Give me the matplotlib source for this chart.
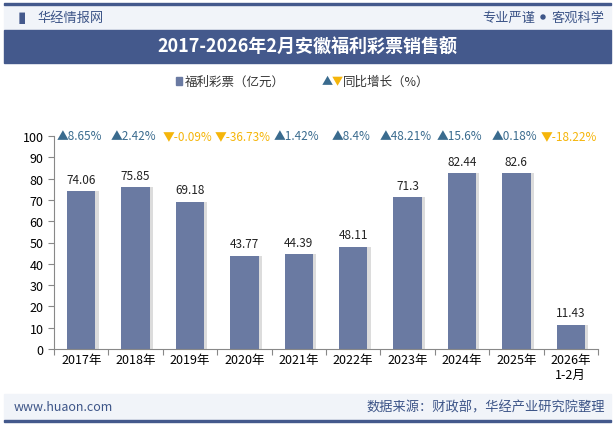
import matplotlib.pyplot as plt
from matplotlib.patches import Rectangle, Ellipse

plt.rcParams['font.family'] = ['Noto Sans CJK SC', 'DejaVu Sans']

years = ['2017年', '2018年', '2019年', '2020年', '2021年', '2022年',
         '2023年', '2024年', '2025年', '2026年\n1-2月']
sales = [74.06, 75.85, 69.18, 43.77, 44.39, 48.11, 71.3, 82.44, 82.6, 11.43]
growth = ['8.65%', '2.42%', '-0.09%', '-36.73%', '1.42%', '8.4%',
          '48.21%', '15.6%', '0.18%', '-18.22%']
growth_up = [True, True, False, False, True, True, True, True, True, False]

BAR = '#6a7aa2'
UP = '#3a6b8e'
DOWN = '#f5b50a'
NAVY = '#44598c'

W, H = 615, 427
fig = plt.figure(figsize=(W / 100, H / 100), dpi=100)


def fx(px):
    return px / W


def fy(py):
    return 1 - py / H


# header / footer bands
fig.patches.append(Rectangle((fx(4), fy(31)), fx(607), 25 / H, transform=fig.transFigure,
                             color='#f1f4f9', zorder=0))
fig.patches.append(Rectangle((fx(4), fy(64)), fx(607), 33 / H, transform=fig.transFigure,
                             color=NAVY, zorder=1))
fig.patches.append(Rectangle((fx(4), fy(422)), fx(607), 27 / H, transform=fig.transFigure,
                             color='#f1f4f9', zorder=0))
fig.patches.append(Rectangle((fx(4), fy(6)), fx(607), 2 / H, transform=fig.transFigure,
                             color=NAVY, zorder=1))
fig.patches.append(Rectangle((fx(4), fy(423)), fx(607), 2 / H, transform=fig.transFigure,
                             color=NAVY, zorder=1))

fig.text(fx(18), fy(18), '▮', color=NAVY, fontsize=11, va='center')
fig.text(fx(37), fy(18), '华经情报网', color='#3d5588', fontsize=9.5, va='center')
fig.text(fx(605), fy(18), '客观科学', color='#3d5588', fontsize=9.5,
         va='center', ha='right')
fig.patches.append(Ellipse((fx(543), fy(18)), 4 / W, 4 / H, transform=fig.transFigure,
                           color='#3d5588'))
fig.text(fx(535), fy(18), '专业严谨', color='#3d5588', fontsize=9.5,
         va='center', ha='right')
fig.text(0.5, fy(47), '2017-2026年2月安徽福利彩票销售额', color='white', fontsize=13,
         fontweight='bold', ha='center', va='center')
fig.text(fx(14), fy(408), 'www.huaon.com', color='#3d5588', fontsize=9, va='center')
fig.text(fx(605), fy(408), '数据来源：财政部，华经产业研究院整理', color='#3d5588',
         fontsize=9.5, va='center', ha='right')

# legend
fig.patches.append(Rectangle((fx(176), fy(86)), 6 / W, 8 / H, transform=fig.transFigure,
                             color=BAR))
fig.text(fx(185), fy(82), '福利彩票（亿元）', fontsize=9, va='center', color='#333333')
fig.text(fx(322), fy(82), '▲', fontsize=8, va='center', color=UP)
fig.text(fx(332), fy(82), '▼', fontsize=8, va='center', color=DOWN)
fig.text(fx(343), fy(82), '同比增长（%）', fontsize=9, va='center', color='#333333')

ax = fig.add_axes([fx(54), fy(350), fx(598 - 54), (350 - 137) / H])
x = list(range(len(years)))
ax.bar([i + 0.06 for i in x], sales, width=0.52, color='#dcdcdc', zorder=1)
ax.bar(x, sales, width=0.52, color=BAR, zorder=2)
for i, v in enumerate(sales):
    ax.text(i, v + 2.5, f'{v:g}', ha='center', va='bottom', fontsize=8.5, color='#222222')

for i, g in enumerate(growth):
    c = UP if growth_up[i] else DOWN
    mark = '▲' if growth_up[i] else '▼'
    ax.text(i - 0.04, 100, mark + g, ha='center', va='center', fontsize=8.5, color=c,
            clip_on=False)

ax.set_xlim(-0.5, len(years) - 0.5)
ax.set_ylim(0, 100)
ax.set_yticks(range(0, 101, 10))
ax.set_xticks([i + 0.5 for i in x[:-1]] + [-0.5, len(years) - 0.5], minor=False)
ax.set_xticks(x, minor=True)
ax.set_xticklabels(years, minor=True)
ax.tick_params(axis='x', which='major', labelbottom=False, length=4, color='#888888')
ax.tick_params(axis='x', which='minor', length=0, labelsize=9, pad=3)
ax.tick_params(axis='y', labelsize=9, length=4, color='#888888')
for side in ['top', 'right']:
    ax.spines[side].set_visible(False)
ax.spines['left'].set_color('#888888')
ax.spines['bottom'].set_color('#888888')

fig.savefig('out.png', dpi=100)
